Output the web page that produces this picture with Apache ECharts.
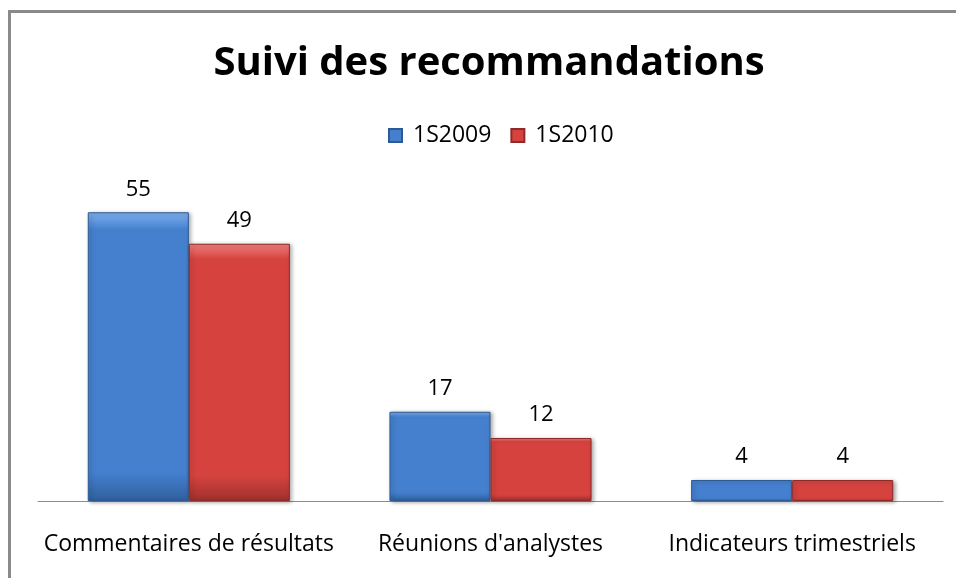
<!DOCTYPE html>
<html>
<head>
<meta charset="utf-8">
<style>
  html, body { margin: 0; padding: 0; background: #fff; }
  #frame { position: absolute; left: 8px; top: 10px; width: 960px; height: 580px; border: 3px solid #8a8a8a; box-sizing: border-box; }
  #container { position: absolute; left: 0; top: 0; width: 956px; height: 578px; }
</style>
<script src="https://cdn.jsdelivr.net/npm/echarts@6/dist/echarts.min.js"></script>
</head>
<body>
<div id="frame"></div>
<div id="container"></div>
<script>
var categories = ['Commentaires de résultats', "Réunions d'analystes", 'Indicateurs trimestriels'];
var seriesNames = ['1S2009', '1S2010'];
var values2009 = [55, 17, 4];
var values2010 = [49, 12, 4];

var font = 'Open Sans';

function barColor(top, mid, bottom) {
  return new echarts.graphic.LinearGradient(0, 0, 0, 1, [
    { offset: 0, color: top },
    { offset: 0.06, color: mid },
    { offset: 0.9, color: mid },
    { offset: 1, color: bottom }
  ]);
}

var blue = barColor('#7fb0ee', '#4580cf', '#30609e');
var red = barColor('#f07f7c', '#d6433f', '#9f302d');

var myChart = echarts.init(document.getElementById('container'));
var option = {
  animation: false,
  title: {
    text: 'Suivi des recommandations',
    left: 484,
    top: 39,
    textAlign: 'center',
    textStyle: { fontFamily: font, fontSize: 40, fontWeight: 'bold', color: '#000' }
  },
  legend: {
    data: seriesNames,
    top: 119,
    left: 383,
    itemWidth: 13,
    itemHeight: 13,
    itemGap: 19,
    icon: 'rect',
    textStyle: { fontFamily: font, fontSize: 23, color: '#000', padding: [0, 0, 0, 6] }
  },
  grid: { left: 38, right: 13, top: 186, bottom: 77 },
  xAxis: {
    type: 'category',
    data: categories,
    axisLine: { lineStyle: { color: '#8c8c8c', width: 1 } },
    axisTick: { show: false },
    axisLabel: { interval: 0, fontFamily: font, fontSize: 23, color: '#000', margin: 32 }
  },
  yAxis: {
    type: 'value',
    min: 0,
    max: 60,
    interval: 10,
    show: false,
    splitLine: { show: false }
  },
  series: [
    {
      name: seriesNames[0],
      type: 'bar',
      data: values2009,
      barGap: '0%',
      barCategoryGap: '33%',
      itemStyle: { color: blue, borderColor: '#2d5a94', borderWidth: 1, shadowColor: 'rgba(0,0,0,0.35)', shadowBlur: 4, shadowOffsetX: 2, shadowOffsetY: 1 },
      label: { show: true, position: 'top', distance: 12, fontFamily: font, fontSize: 22, color: '#000' }
    },
    {
      name: seriesNames[1],
      type: 'bar',
      data: values2010,
      itemStyle: { color: red, borderColor: '#8e2a28', borderWidth: 1, shadowColor: 'rgba(0,0,0,0.35)', shadowBlur: 4, shadowOffsetX: 2, shadowOffsetY: 1 },
      label: { show: true, position: 'top', distance: 12, fontFamily: font, fontSize: 22, color: '#000' }
    }
  ]
};
myChart.setOption(option);
</script>
</body>
</html>
